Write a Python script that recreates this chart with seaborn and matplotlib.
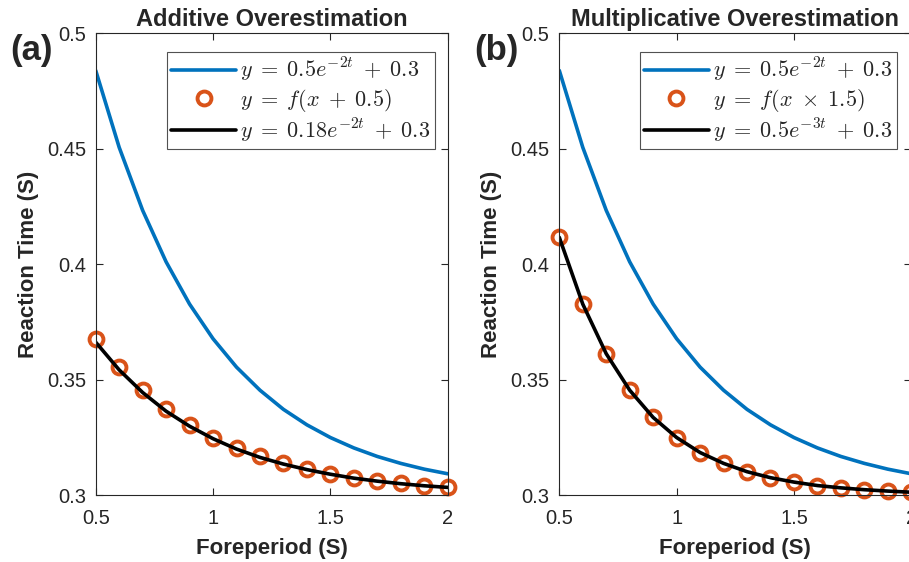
import numpy as np
import pandas as pd
import seaborn as sns
import matplotlib.pyplot as plt

# ------------------------------
# data
# ------------------------------
t = [0.5, 0.6, 0.7, 0.8, 0.9, 1.0, 1.1, 1.2, 1.3, 1.4, 1.5, 1.6, 1.7, 1.8, 1.9, 2.0]

# blue curve, same in both panels
base_curve = [0.4839, 0.4506, 0.4233, 0.4010, 0.3827, 0.3677, 0.3554, 0.3454,
              0.3371, 0.3304, 0.3249, 0.3204, 0.3167, 0.3137, 0.3112, 0.3092]

# panel (a): shifted points and fitted line
add_points = [0.3677, 0.3554, 0.3454, 0.3371, 0.3304, 0.3249, 0.3204, 0.3167,
              0.3137, 0.3112, 0.3092, 0.3075, 0.3061, 0.3050, 0.3041, 0.3034]
add_fit = [0.3662, 0.3542, 0.3444, 0.3363, 0.3298, 0.3244, 0.3199, 0.3163,
           0.3134, 0.3110, 0.3090, 0.3073, 0.3060, 0.3049, 0.3040, 0.3033]

# panel (b): scaled points and fitted line
mul_points = [0.4116, 0.3827, 0.3612, 0.3454, 0.3336, 0.3249, 0.3184, 0.3137,
              0.3101, 0.3075, 0.3056, 0.3041, 0.3031, 0.3023, 0.3017, 0.3012]
mul_fit = mul_points

titles = ["Additive Overestimation", "Multiplicative Overestimation"]
panel_tags = ["(a)", "(b)"]
legend_labels = [
    [r"$y\;=\;0.5e^{-2t}\;+\;0.3$", r"$y\;=\;f(x\;+\;0.5)$", r"$y\;=\;0.18e^{-2t}\;+\;0.3$"],
    [r"$y\;=\;0.5e^{-2t}\;+\;0.3$", r"$y\;=\;f(x\;\times\;1.5)$", r"$y\;=\;0.5e^{-3t}\;+\;0.3$"],
]
x_ticks = [0.5, 1, 1.5, 2]
x_tick_labels = ["0.5", "1", "1.5", "2"]
y_ticks = [0.3, 0.35, 0.4, 0.45, 0.5]
y_tick_labels = ["0.3", "0.35", "0.4", "0.45", "0.5"]

BLUE = "#0072BD"
ORANGE = "#D95319"
INK = "#262626"

sns.set_style("ticks")
plt.rcParams["font.family"] = ["Liberation Sans", "DejaVu Sans"]
plt.rcParams["mathtext.fontset"] = "cm"

fig = plt.figure(figsize=(9.09, 5.62), dpi=100)
ax_a = fig.add_axes([0.1053, 0.1192, 0.3872, 0.8215])
ax_b = fig.add_axes([0.6153, 0.1192, 0.3872, 0.8215])

panels = [
    (ax_a, add_points, add_fit, 0.964),
    (ax_b, mul_points, mul_fit, 0.9585),
]

for i, (ax, pts, fit, leg_x) in enumerate(panels):
    df = pd.DataFrame({"t": t, "base": base_curve, "pts": pts, "fit": fit})
    sns.lineplot(data=df, x="t", y="base", ax=ax, color=BLUE, linewidth=2.6,
                 label=legend_labels[i][0])
    sns.lineplot(data=df, x="t", y="pts", ax=ax, linestyle="none", marker="o",
                 markersize=10, markerfacecolor="none", markeredgecolor=ORANGE,
                 markeredgewidth=2.8, label=legend_labels[i][1], clip_on=False)
    sns.lineplot(data=df, x="t", y="fit", ax=ax, color="black", linewidth=2.6,
                 label=legend_labels[i][2])

    ax.set_xlim(0.5, 2)
    ax.set_ylim(0.3, 0.5)
    ax.set_xticks(x_ticks)
    ax.set_xticklabels(x_tick_labels)
    ax.set_yticks(y_ticks)
    ax.set_yticklabels(y_tick_labels)
    ax.tick_params(direction="in", length=5, width=0.8, colors=INK,
                   labelsize=14.5, top=True, right=True)
    ax.tick_params(axis="x", pad=10)
    ax.tick_params(axis="y", pad=7)
    for sp in ax.spines.values():
        sp.set_visible(True)
        sp.set_color(INK)
        sp.set_linewidth(0.8)

    ax.set_title(titles[i], fontsize=17, fontweight="bold", pad=5)
    ax.set_xlabel("Foreperiod (S)", fontsize=16, fontweight="bold", color=INK, labelpad=7)
    ax.set_ylabel("Reaction Time (S)", fontsize=16, fontweight="bold", color=INK, labelpad=6)

    leg = ax.legend(loc="upper right", bbox_to_anchor=(leg_x, 0.96), borderaxespad=0,
                    fontsize=16, frameon=True, fancybox=False, handlelength=2.9,
                    handletextpad=0.2, labelspacing=0.12, borderpad=0.2)
    leg.get_frame().set_edgecolor(INK)
    leg.get_frame().set_linewidth(0.8)

fig.text(0.011, 0.893, panel_tags[0], fontsize=25, fontweight="bold", color=INK)
fig.text(0.522, 0.893, panel_tags[1], fontsize=25, fontweight="bold", color=INK)

plt.savefig("out.png", dpi=100)
plt.close()
